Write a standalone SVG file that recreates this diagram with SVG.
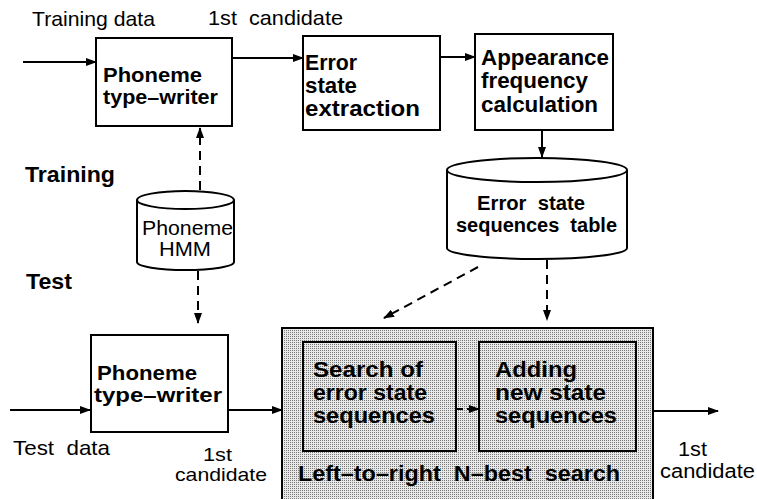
<svg xmlns="http://www.w3.org/2000/svg" width="757" height="499" viewBox="0 0 757 499">
<style>
.box{fill:#fff;stroke:#000;stroke-width:2}
.shade{fill:url(#dots);stroke:#000;stroke-width:2}
.ln{fill:none;stroke:#000;stroke-width:2}
.dash{fill:none;stroke:#000;stroke-width:2;stroke-dasharray:9 6}
.r{font-family:"Liberation Sans",Arial,sans-serif;font-size:21px;fill:#000}
.b{font-family:"Liberation Sans",Arial,sans-serif;font-size:22px;font-weight:bold;fill:#000}
</style>
<defs>
<pattern id="dots" width="2" height="2" patternUnits="userSpaceOnUse">
<rect width="2" height="2" fill="#e8e8e8"/>
<rect width="1" height="1" fill="#7a7a7a"/>
</pattern>
<marker id="ah" markerWidth="11" markerHeight="8" refX="10" refY="4" orient="auto" markerUnits="userSpaceOnUse">
<path d="M0,0 L11,4 L0,8 z" fill="#000"/>
</marker>
</defs>

<g id="labels">
<text class="r" x="32" y="26" textLength="123" lengthAdjust="spacingAndGlyphs">Training data</text>
<text class="r" x="208" y="25" textLength="135" lengthAdjust="spacingAndGlyphs" xml:space="preserve">1st  candidate</text>
<text class="b" x="25" y="182" textLength="90" lengthAdjust="spacingAndGlyphs">Training</text>
<text class="b" x="26" y="289" textLength="46" lengthAdjust="spacingAndGlyphs">Test</text>
<text class="r" x="13" y="455" textLength="97" lengthAdjust="spacingAndGlyphs" xml:space="preserve">Test  data</text>
<text class="r" style="font-size:19px"><tspan x="203" y="461" textLength="29" lengthAdjust="spacingAndGlyphs">1st</tspan><tspan x="175" y="481" textLength="92" lengthAdjust="spacingAndGlyphs">candidate</tspan></text>
<text class="r" style="font-size:20px"><tspan x="678" y="456" textLength="29" lengthAdjust="spacingAndGlyphs">1st</tspan><tspan x="660" y="478" textLength="95" lengthAdjust="spacingAndGlyphs">candidate</tspan></text>
</g>

<g id="phoneme-typewriter-train">
<rect class="box" x="96" y="38" width="136" height="88"/>
<text class="b" style="font-size:21px"><tspan x="103" y="82" textLength="99" lengthAdjust="spacingAndGlyphs">Phoneme</tspan><tspan x="103" y="104" textLength="115" lengthAdjust="spacingAndGlyphs">type–writer</tspan></text>
</g>

<g id="error-state-extraction">
<rect class="box" x="303" y="36" width="137" height="94"/>
<text class="b"><tspan x="305" y="70" textLength="52" lengthAdjust="spacingAndGlyphs">Error</tspan><tspan x="305" y="93" textLength="52" lengthAdjust="spacingAndGlyphs">state</tspan><tspan x="305" y="116" textLength="115" lengthAdjust="spacingAndGlyphs">extraction</tspan></text>
</g>

<g id="appearance-frequency">
<rect class="box" x="475" y="34" width="138" height="96"/>
<text class="b"><tspan x="481" y="65" textLength="128" lengthAdjust="spacingAndGlyphs">Appearance</tspan><tspan x="481" y="88" textLength="107" lengthAdjust="spacingAndGlyphs">frequency</tspan><tspan x="481" y="112" textLength="117" lengthAdjust="spacingAndGlyphs">calculation</tspan></text>
</g>

<g id="error-state-table">
<path class="box" d="M447,170 L447,248 A90,11 0 0 0 627,248 L627,170"/>
<ellipse class="box" cx="537" cy="170" rx="90" ry="12"/>
<text class="b" style="font-size:20px" xml:space="preserve"><tspan x="477" y="210" textLength="108" lengthAdjust="spacingAndGlyphs">Error  state</tspan><tspan x="456" y="232" textLength="161" lengthAdjust="spacingAndGlyphs">sequences  table</tspan></text>
</g>

<g id="phoneme-hmm">
<path class="box" d="M137,200 L137,262 A48.5,8 0 0 0 234,262 L234,200"/>
<ellipse class="box" cx="185.5" cy="200" rx="48.5" ry="9"/>
<text class="r" style="font-size:20px"><tspan x="142" y="235" textLength="91" lengthAdjust="spacingAndGlyphs">Phoneme</tspan><tspan x="159" y="256" textLength="52" lengthAdjust="spacingAndGlyphs">HMM</tspan></text>
</g>

<g id="phoneme-typewriter-test">
<rect class="box" x="91" y="335" width="137" height="97"/>
<text class="b" style="font-size:21px"><tspan x="97" y="380" textLength="100" lengthAdjust="spacingAndGlyphs">Phoneme</tspan><tspan x="94" y="402" textLength="128" lengthAdjust="spacingAndGlyphs">type–writer</tspan></text>
</g>

<g id="nbest-search">
<rect class="shade" x="282" y="328" width="371" height="180"/>
<text class="b" x="298" y="481" textLength="322" lengthAdjust="spacingAndGlyphs" xml:space="preserve">Left–to–right  N–best  search</text>
</g>

<g id="search-error-state">
<rect class="shade" x="303" y="342" width="153" height="109"/>
<text class="b"><tspan x="313" y="377" textLength="110" lengthAdjust="spacingAndGlyphs">Search of</tspan><tspan x="313" y="400" textLength="114" lengthAdjust="spacingAndGlyphs">error state</tspan><tspan x="313" y="423" textLength="122" lengthAdjust="spacingAndGlyphs">sequences</tspan></text>
</g>

<g id="adding-new-state">
<rect class="shade" x="479" y="342" width="157" height="109"/>
<text class="b"><tspan x="495" y="377" textLength="82" lengthAdjust="spacingAndGlyphs">Adding</tspan><tspan x="495" y="400" textLength="111" lengthAdjust="spacingAndGlyphs">new state</tspan><tspan x="495" y="423" textLength="122" lengthAdjust="spacingAndGlyphs">sequences</tspan></text>
</g>

<g id="connectors">
<line class="ln" x1="23" y1="62" x2="96" y2="62" marker-end="url(#ah)"/>
<line class="ln" x1="233" y1="58" x2="303" y2="58" marker-end="url(#ah)"/>
<line class="ln" x1="441" y1="57" x2="475" y2="57" marker-end="url(#ah)"/>
<line class="ln" x1="542" y1="131" x2="542" y2="157" marker-end="url(#ah)"/>
<line class="dash" x1="200" y1="190" x2="200" y2="128" marker-end="url(#ah)"/>
<line class="dash" x1="198" y1="271" x2="198" y2="323" marker-end="url(#ah)"/>
<line class="dash" x1="478" y1="267" x2="384" y2="318" marker-end="url(#ah)"/>
<line class="dash" x1="547" y1="260" x2="547" y2="320" marker-end="url(#ah)"/>
<line class="ln" x1="10" y1="410" x2="90" y2="410" marker-end="url(#ah)"/>
<line class="ln" x1="229" y1="410" x2="282" y2="410" marker-end="url(#ah)"/>
<line class="dash" x1="457" y1="409" x2="479" y2="409" style="stroke-dasharray:6 4" marker-end="url(#ah)"/>
<line class="ln" x1="654" y1="411" x2="718" y2="411" marker-end="url(#ah)"/>
</g>
</svg>
